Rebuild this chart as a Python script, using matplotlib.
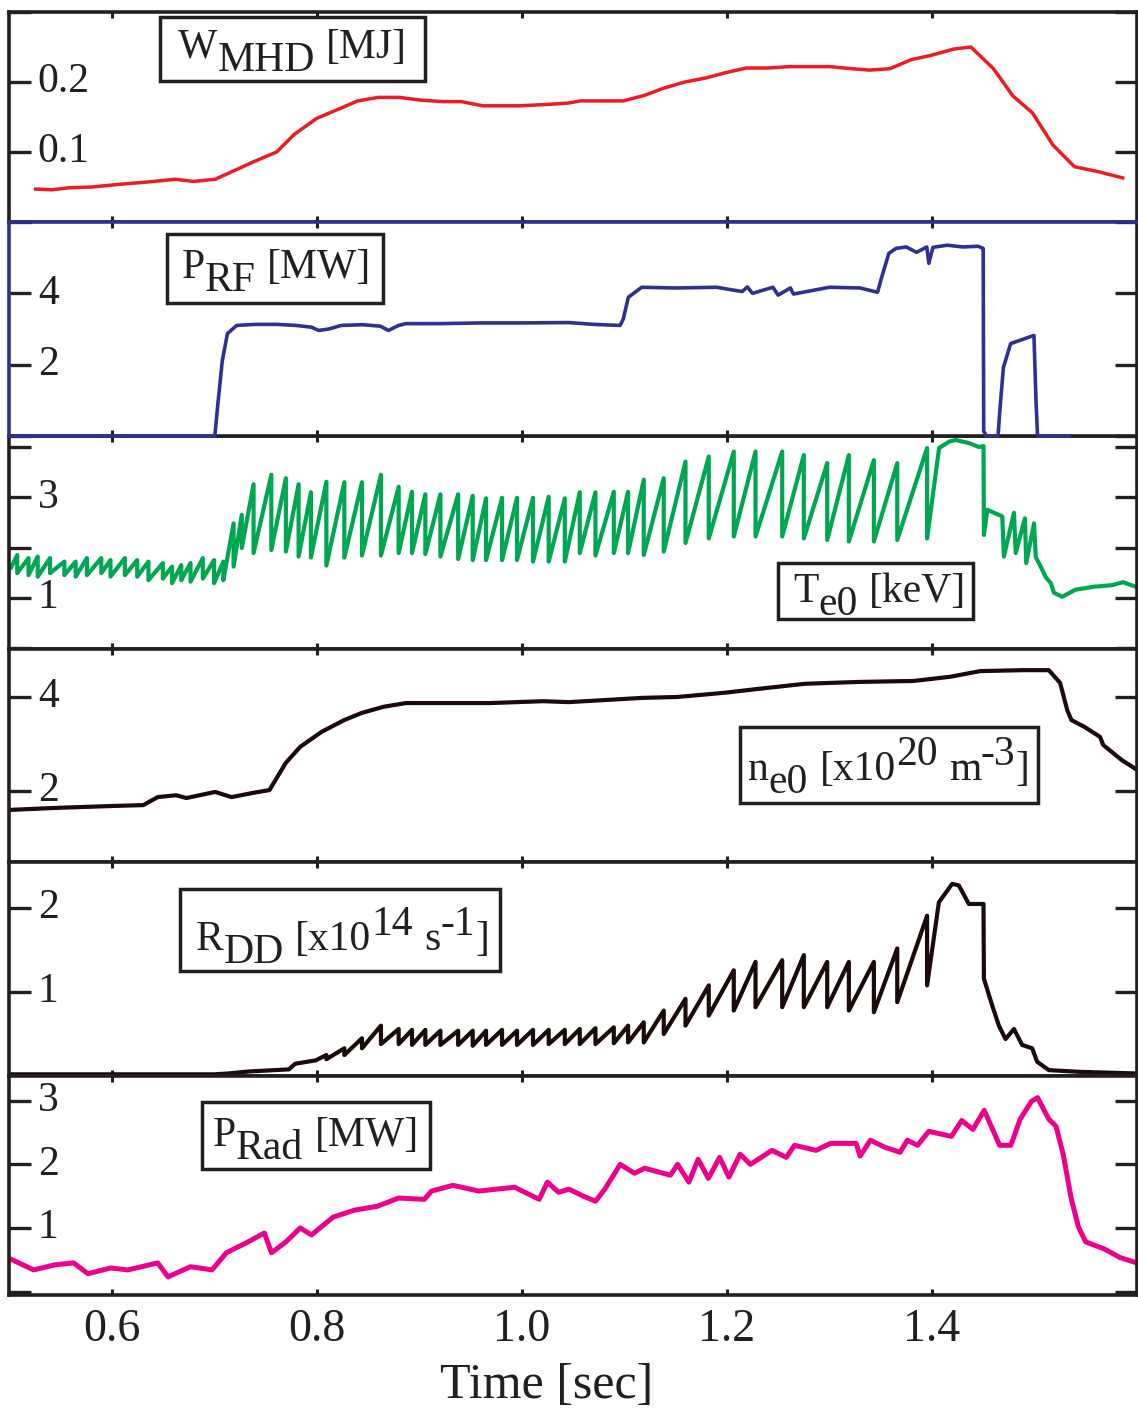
import matplotlib
matplotlib.use('Agg')
import matplotlib.pyplot as plt
from matplotlib.transforms import IdentityTransform, blended_transform_factory
from matplotlib.patches import Rectangle

plt.rcParams['font.family'] = ['Liberation Serif', 'DejaVu Serif']

# ---------------- data ----------------
x_ticks = [0.6, 0.8, 1.0, 1.2, 1.4]
x_ticklabels = ['0.6', '0.8', '1.0', '1.2', '1.4']
x_label = 'Time [sec]'

# W_MHD [MJ]
w_t = [0.526, 0.542, 0.559, 0.581, 0.609, 0.634, 0.662, 0.680, 0.701, 0.722,
       0.740, 0.761, 0.778, 0.800, 0.821, 0.840, 0.860, 0.881, 0.902, 0.923,
       0.941, 0.962, 0.998, 1.026, 1.046, 1.057, 1.099, 1.120, 1.138, 1.159,
       1.180, 1.198, 1.219, 1.240, 1.262, 1.300, 1.322, 1.339, 1.359, 1.380,
       1.399, 1.421, 1.438, 1.460, 1.479, 1.498, 1.518, 1.539, 1.562, 1.586]
w_v = [0.047, 0.046, 0.049, 0.050, 0.054, 0.057, 0.061, 0.058, 0.061, 0.075,
       0.087, 0.100, 0.125, 0.148, 0.161, 0.173, 0.178, 0.178, 0.174, 0.172,
       0.172, 0.166, 0.166, 0.168, 0.170, 0.173, 0.173, 0.181, 0.191, 0.200,
       0.206, 0.213, 0.220, 0.220, 0.222, 0.222, 0.219, 0.217, 0.219, 0.232,
       0.238, 0.247, 0.250, 0.219, 0.180, 0.156, 0.110, 0.079, 0.072, 0.063]

# P_RF [MW]
prf_t = [0.5, 0.7007, 0.704, 0.708, 0.713, 0.722, 0.74, 0.761, 0.78, 0.795,
         0.802, 0.812, 0.824, 0.845, 0.862, 0.870, 0.880, 0.887, 0.92, 0.96,
         1.00, 1.046, 1.070, 1.096, 1.099, 1.104, 1.117, 1.15, 1.19, 1.215,
         1.22, 1.225, 1.245, 1.25, 1.262, 1.265, 1.30, 1.33, 1.347, 1.351,
         1.358, 1.365, 1.375, 1.385, 1.395, 1.397, 1.401, 1.415, 1.43, 1.445,
         1.450, 1.4505, 1.453, 1.4645, 1.466, 1.4697, 1.4768, 1.4856, 1.4995, 1.5015,
         1.503, 1.534]
prf_v = [0.0, 0.0, 0.99, 2.11, 2.87, 3.10, 3.13, 3.13, 3.10, 3.05,
         2.96, 3.00, 3.10, 3.12, 3.08, 2.96, 3.10, 3.15, 3.15, 3.17,
         3.17, 3.18, 3.13, 3.10, 3.28, 3.89, 4.17, 4.15, 4.17, 4.05,
         4.18, 4.00, 4.17, 3.95, 4.15, 3.98, 4.17, 4.15, 4.03, 4.45,
         5.12, 5.26, 5.30, 5.15, 5.30, 4.84, 5.29, 5.35, 5.30, 5.32,
         5.26, 0.14, 0.0, 0.0, 0.62, 1.92, 2.59, 2.68, 2.82, 0.99,
         0.0, 0.0]

# T_e0 [keV] : ohmic sawteeth
te_start_t, te_start_v = 0.502, 1.60
pre_crash = [0.508, 0.519, 0.528, 0.540, 0.554, 0.565, 0.576, 0.590, 0.599, 0.613,
             0.625, 0.636, 0.650, 0.659, 0.668, 0.677, 0.689, 0.700, 0.709]
pre_peak = [1.85, 1.79, 1.82, 1.79, 1.72, 1.72, 1.79, 1.79, 1.75, 1.79,
            1.75, 1.72, 1.69, 1.62, 1.65, 1.69, 1.79, 1.75, 1.72]
pre_trough = [1.49, 1.45, 1.42, 1.49, 1.45, 1.42, 1.45, 1.49, 1.42, 1.45,
              1.42, 1.35, 1.38, 1.29, 1.35, 1.32, 1.38, 1.29, 1.35]
# heated sawtooth crash times (shared by T_e0 and R_DD)
main_crash = [0.719, 0.727, 0.7385, 0.7558, 0.770, 0.7824, 0.7944, 0.8095, 0.827, 0.8442,
              0.8627, 0.880, 0.893, 0.906, 0.9207, 0.938, 0.9522, 0.9652, 0.9808, 0.9954,
              1.011, 1.0263, 1.042, 1.0566, 1.0719, 1.0898, 1.1037, 1.119, 1.1385, 1.1597,
              1.1824, 1.2068, 1.228, 1.254, 1.2751, 1.2979, 1.319, 1.3434, 1.3662, 1.3953]
te_peak = [2.48, 2.65, 3.26, 3.45, 3.38, 3.26, 3.10, 3.31, 3.30, 3.30,
           3.45, 3.21, 3.11, 3.06, 3.06, 3.06, 3.03, 2.98, 2.99, 2.99,
           2.99, 3.01, 2.98, 3.10, 3.10, 3.11, 3.11, 3.35, 3.38, 3.71,
           3.81, 3.91, 3.91, 3.91, 3.84, 3.68, 3.84, 3.74, 3.68, 3.98]
te_trough = [1.62, 1.99, 1.89, 1.95, 1.92, 1.82, 1.80, 1.64, 1.80, 1.84,
             1.84, 1.89, 1.89, 1.87, 1.82, 1.77, 1.75, 1.75, 1.75, 1.75,
             1.72, 1.72, 1.72, 1.89, 1.84, 1.89, 1.89, 1.85, 1.92, 2.09,
             2.18, 2.22, 2.22, 2.22, 2.18, 2.15, 2.12, 2.12, 2.15, 2.18]
te_top_t = [1.407, 1.417, 1.423, 1.436, 1.446, 1.4503]
te_top_v = [3.98, 4.11, 4.14, 4.08, 4.00, 4.02]
te_post_t = [1.4507, 1.454, 1.4686, 1.4702, 1.480, 1.4817, 1.4907, 1.492, 1.4996, 1.5013,
             1.5078, 1.511, 1.516, 1.519, 1.527, 1.540, 1.558, 1.5756, 1.5863, 1.600]
te_post_v = [2.25, 2.75, 2.62, 1.82, 2.69, 1.89, 2.58, 1.69, 2.48, 1.81,
             1.55, 1.41, 1.29, 1.10, 1.02, 1.16, 1.22, 1.25, 1.31, 1.21]

# n_e0 [x10^20 m^-3]
ne_t = [0.503, 0.545, 0.599, 0.631, 0.645, 0.663, 0.673, 0.701, 0.717, 0.738,
        0.754, 0.770, 0.784, 0.805, 0.827, 0.844, 0.865, 0.887, 0.915, 0.969,
        1.021, 1.046, 1.117, 1.152, 1.198, 1.230, 1.276, 1.329, 1.382, 1.418,
        1.447, 1.489, 1.514, 1.525, 1.532, 1.536, 1.549, 1.564, 1.567, 1.585,
        1.600]
ne_v = [1.60, 1.64, 1.68, 1.70, 1.87, 1.91, 1.85, 1.98, 1.87, 1.96,
        2.02, 2.60, 2.94, 3.26, 3.51, 3.66, 3.79, 3.87, 3.87, 3.87,
        3.91, 3.89, 3.98, 4.00, 4.09, 4.17, 4.28, 4.32, 4.34, 4.43,
        4.55, 4.57, 4.57, 4.30, 3.72, 3.51, 3.36, 3.15, 2.98, 2.66,
        2.45]

# R_DD [x10^14 s^-1]
rdd_pre_t = [0.50, 0.60, 0.70, 0.714, 0.734, 0.773, 0.779, 0.799]
rdd_pre_v = [0.02, 0.02, 0.02, 0.03, 0.054, 0.079, 0.146, 0.186]
rdd_first = 7   # first sawtooth (index in main_crash) visible in R_DD
rdd_peak = [0.25, 0.33, 0.45, 0.60, 0.56, 0.55, 0.55, 0.54, 0.54, 0.54,
            0.54, 0.55, 0.54, 0.55, 0.55, 0.55, 0.56, 0.57, 0.58, 0.60,
            0.64, 0.78, 0.92, 1.08, 1.26, 1.36, 1.38, 1.44, 1.36, 1.36,
            1.36, 1.52, 1.91]
rdd_trough = [0.20, 0.25, 0.33, 0.38, 0.38, 0.37, 0.37, 0.37, 0.37, 0.36,
              0.37, 0.37, 0.37, 0.37, 0.38, 0.38, 0.38, 0.38, 0.39, 0.40,
              0.40, 0.50, 0.60, 0.72, 0.78, 0.82, 0.82, 0.82, 0.82, 0.78,
              0.76, 0.88, 1.08]
rdd_post_t = [1.4068, 1.4198, 1.4263, 1.436, 1.4503, 1.4507, 1.4588, 1.4653, 1.4718, 1.480,
              1.488, 1.4978, 1.5026, 1.514, 1.5433, 1.600]
rdd_post_v = [2.07, 2.29, 2.27, 2.05, 2.05, 1.16, 0.84, 0.60, 0.44, 0.56,
              0.37, 0.33, 0.17, 0.07, 0.05, 0.03]

# P_Rad [MW]
pr_t = [0.503, 0.524, 0.545, 0.563, 0.577, 0.599, 0.616, 0.645, 0.655, 0.677,
        0.698, 0.712, 0.733, 0.749, 0.756, 0.770, 0.784, 0.795, 0.816, 0.837,
        0.859, 0.880, 0.905, 0.912, 0.933, 0.958, 0.993, 1.017, 1.025, 1.036,
        1.046, 1.060, 1.072, 1.081, 1.096, 1.110, 1.120, 1.131, 1.145, 1.152,
        1.163, 1.172, 1.182, 1.193, 1.202, 1.213, 1.223, 1.244, 1.258, 1.266,
        1.287, 1.301, 1.326, 1.330, 1.340, 1.354, 1.369, 1.376, 1.386, 1.397,
        1.419, 1.429, 1.440, 1.451, 1.466, 1.477, 1.486, 1.497, 1.503, 1.514,
        1.521, 1.528, 1.536, 1.543, 1.550, 1.568, 1.584, 1.600]
pr_v = [0.50, 0.34, 0.42, 0.45, 0.28, 0.37, 0.34, 0.45, 0.23, 0.39,
        0.34, 0.61, 0.78, 0.92, 0.61, 0.78, 1.00, 0.89, 1.17, 1.28,
        1.34, 1.47, 1.45, 1.58, 1.67, 1.58, 1.64, 1.45, 1.72, 1.56,
        1.61, 1.50, 1.42, 1.61, 2.00, 1.86, 1.94, 1.89, 1.83, 2.00,
        1.72, 2.08, 1.78, 2.11, 1.80, 2.16, 2.00, 2.22, 2.11, 2.30,
        2.22, 2.33, 2.33, 2.13, 2.38, 2.27, 2.19, 2.38, 2.30, 2.52,
        2.44, 2.69, 2.55, 2.85, 2.30, 2.30, 2.71, 2.99, 3.05, 2.71,
        2.60, 2.16, 1.45, 1.01, 0.78, 0.67, 0.53, 0.45]

# y ticks / labels per panel
y_ticks = [[0, 0.1, 0.2, 0.3], [0, 2, 4, 6], [0, 1, 2, 3, 4], [2, 4], [0, 1, 2], [0, 1, 2, 3]]
y_lab_vals = [[0.1, 0.2], [2, 4], [1, 3], [2, 4], [1, 2], [1, 2, 3]]
y_lab_txt = [['0.1', '0.2'], ['2', '4'], ['1', '3'], ['2', '4'], ['1', '2'], ['1', '2', '3']]

# panel titles: (text, kind) pieces; kind n=normal, sub=subscript, sup=superscript
titles = [
    [("W", 'n'), ("MHD", 'sub'), ("[MJ]", 'n')],
    [("P", 'n'), ("RF", 'sub'), ("[MW]", 'n')],
    [("T", 'n'), ("e0", 'sub'), ("[keV]", 'n')],
    [("n", 'n'), ("e0", 'sub'), ("[x10", 'n'), ("20", 'sup'), ("m", 'n'), ("-3", 'sup'), ("]", 'n')],
    [("R", 'n'), ("DD", 'sub'), ("[x10", 'n'), ("14", 'sup'), ("s", 'n'), ("-1", 'sup'), ("]", 'n')],
    [("P", 'n'), ("Rad", 'sub'), ("[MW]", 'n')],
]

# ---------------- layout / style ----------------
W, H = 1138, 1408
INK = '#231f20'
C_RED, C_BLUE, C_GREEN, C_DARK, C_MAG = '#ed1c24', '#2e3192', '#00a651', '#1a0a0a', '#ec008c'

fig = plt.figure(figsize=(W / 100, H / 100), dpi=100)
panels = [(12, 222), (222, 436), (436, 649), (649, 862), (862, 1076), (1076, 1295)]
ylims = [(0.0, 0.3), (0.0, 6.0), (-0.02, 4.22), (0.49, 5.02), (0.0, 2.55), (-0.055, 3.39)]
XL, XR = 9, 1137

axes = []
for i, (top, bot) in enumerate(panels):
    ax = fig.add_axes([XL / W, 1 - bot / H, (XR - XL) / W, (bot - top) / H])
    ax.set_xlim(0.5, 1.6)
    ax.set_ylim(*ylims[i])
    for s in ax.spines.values():
        s.set_linewidth(2.6)
        s.set_color(INK)
    ax.set_xticks(x_ticks)
    ax.tick_params(axis='x', direction='in', length=4.5, width=2.2, color=INK,
                   top=True, bottom=True, labelbottom=(i == len(panels) - 1),
                   labelsize=33, labelcolor=INK, pad=10)
    if i == len(panels) - 1:
        ax.set_xticklabels(x_ticklabels)
    ax.set_yticks(y_ticks[i])
    ax.tick_params(axis='y', direction='in', length=16, width=2.4, color=INK,
                   left=True, right=True, labelleft=False, labelright=False)
    tr = blended_transform_factory(ax.transAxes, ax.transData)
    for v, s in zip(y_lab_vals[i], y_lab_txt[i]):
        ax.text(0.0255, v, s, transform=tr, ha='left', va='center',
                fontsize=30, color=INK)
    axes.append(ax)

# panel 2 frame drawn in blue on left and top, and drawn above panel 3
axes[1].spines['left'].set_color(C_BLUE)
axes[1].spines['top'].set_color(C_BLUE)
axes[1].set_zorder(1)

# ---------------- curves ----------------
axes[0].plot(w_t, w_v, color=C_RED, lw=2.5, solid_joinstyle='round')
axes[1].plot(prf_t, prf_v, color=C_BLUE, lw=2.6, solid_joinstyle='round', clip_on=False, zorder=5)

def saw(ts, vs, crash, peak, trough):
    ts, vs = list(ts), list(vs)
    for c, p, tr in zip(crash, peak, trough):
        ts += [c, c]
        vs += [p, tr]
    return ts, vs

te_t, te_v = saw([te_start_t], [te_start_v], pre_crash, pre_peak, pre_trough)
te_t, te_v = saw(te_t, te_v, main_crash, te_peak, te_trough)
te_t += te_top_t + te_post_t
te_v += te_top_v + te_post_v
axes[2].plot(te_t, te_v, color=C_GREEN, lw=3.0, solid_joinstyle='round')

axes[3].plot(ne_t, ne_v, color=C_DARK, lw=3.0, solid_joinstyle='round')

rd_t, rd_v = saw(rdd_pre_t, rdd_pre_v, main_crash[rdd_first:], rdd_peak, rdd_trough)
rd_t += rdd_post_t
rd_v += rdd_post_v
axes[4].plot(rd_t, rd_v, color=C_DARK, lw=3.0, solid_joinstyle='round')

axes[5].plot(pr_t, pr_v, color=C_MAG, lw=3.6, solid_joinstyle='round')

# ---------------- boxed panel titles ----------------
# box (x0, y0, x1, y1) in pixels from top-left, text start x and baseline y
boxes = [(160, 17, 425, 81, 178, 58),
         (167, 234, 383, 303, 182, 278),
         (778, 563, 973, 619, 793, 602),
         (740, 727, 1038, 803, 748, 780),
         (180, 889, 500, 971, 196, 950),
         (202, 1102, 430, 1169, 213, 1146)]

renderer = fig.canvas.get_renderer()
FS = 30
SUB, SUP = 13, 15
em_px = FS * 100 / 72.0
for (x0, y0, x1, y1, tx, ty), pieces in zip(boxes, titles):
    rect = Rectangle((x0, H - y1), x1 - x0, y1 - y0, transform=IdentityTransform(),
                     fill=True, facecolor='white', edgecolor=INK, lw=2.5, zorder=2)
    fig.add_artist(rect)
    x = tx
    for k, (s, kind) in enumerate(pieces):
        dy = {'n': 0, 'sub': -SUB, 'sup': SUP}[kind]
        t = fig.text(x, H - ty + dy, s, transform=IdentityTransform(), fontsize=FS,
                     ha='left', va='baseline', color=INK, zorder=3)
        w = t.get_window_extent(renderer=renderer).width
        gap = 0.0
        if k + 1 < len(pieces):
            nxt = pieces[k + 1]
            if kind in ('sub', 'sup') and nxt[1] == 'n' and nxt[0] != ']':
                gap = 0.27 * em_px
        x += w + gap

fig.text(547, 10, x_label, transform=IdentityTransform(), fontsize=36,
         ha='center', va='baseline', color=INK)

fig.savefig('out.png', dpi=100)
